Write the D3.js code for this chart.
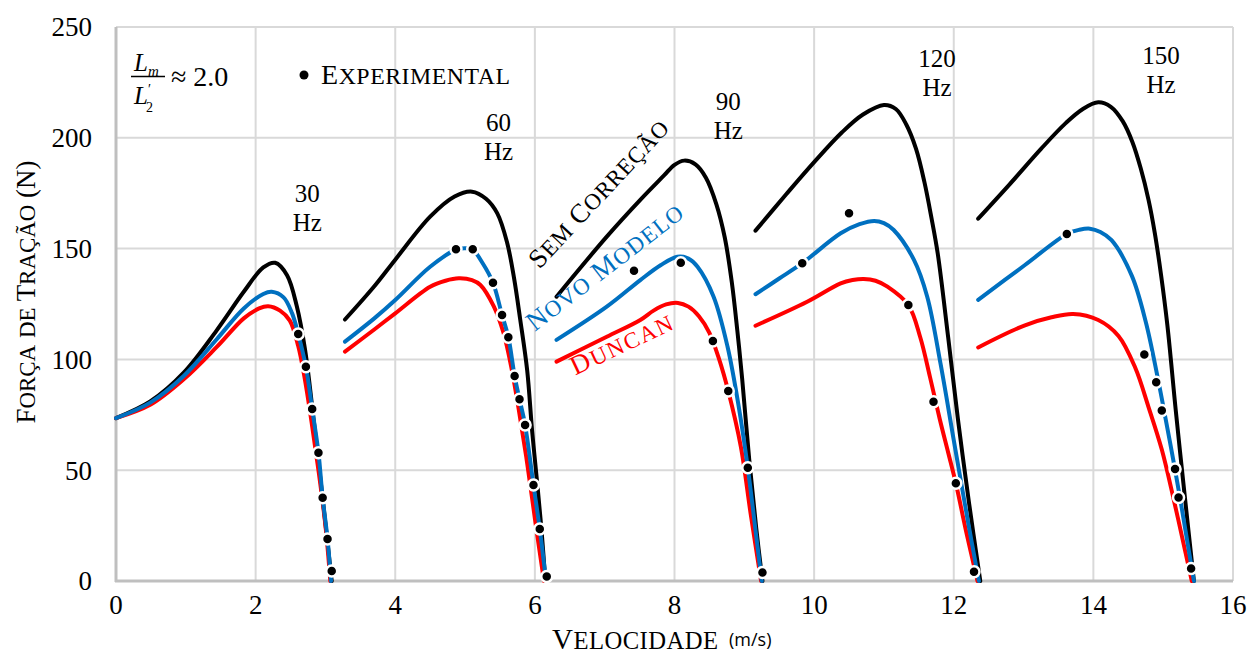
<!DOCTYPE html>
<html>
<head>
<meta charset="utf-8">
<script src="https://cdn.jsdelivr.net/npm/d3@7"></script>
<style>
  body { margin: 0; background: #fff; }
  svg { display: block; font-family: "Liberation Serif", serif; }
</style>
</head>
<body>
<svg id="chart" width="1252" height="659"></svg>
<script>
// values: [velocidade (m/s), força (N)]
var sem30 = [[0,73.5],[0.49,81],[0.97,94],[1.44,113],[1.83,130.5],[2.11,141.5],[2.28,143.6],[2.45,138],[2.59,124],[2.71,104],[2.83,73],[2.95,40],[3.09,0]];
var novo30 = [[0,73.5],[0.49,80.5],[0.97,92.5],[1.44,109],[1.83,123],[2.11,129.5],[2.23,130.5],[2.4,128],[2.52,121],[2.61,111.5],[2.72,96.7],[2.81,77.6],[2.9,57.9],[2.96,37.6],[3.03,19],[3.08,0]];
var duncan30 = [[0,73.5],[0.49,79.5],[0.97,91],[1.44,105.5],[1.83,118.5],[2.05,123],[2.18,124],[2.35,122],[2.49,117.5],[2.61,106],[2.7,92],[2.8,72],[2.9,50],[3.0,25],[3.07,0]];

var sem60 = [[3.28,118],[3.7,133],[4.0,145],[4.5,164.4],[4.85,173.5],[5.1,175.7],[5.3,172.5],[5.46,166],[5.6,153],[5.7,137],[5.79,118],[5.89,95],[5.96,68],[6.04,42],[6.1,21],[6.15,0]];
var novo60 = [[3.28,108],[3.7,118.5],[4.0,126.8],[4.5,141.8],[4.87,149.5],[5.0,150.2],[5.11,149.5],[5.25,143.5],[5.4,134.6],[5.53,120],[5.62,110],[5.71,92.5],[5.78,82],[5.86,70.4],[5.98,43.3],[6.07,23.5],[6.16,0]];
var duncan60 = [[3.28,103.5],[3.7,113.5],[4.0,120.8],[4.5,132.8],[4.72,135.5],[4.91,136.6],[5.1,135.8],[5.22,133.6],[5.41,124],[5.55,112],[5.67,95.2],[5.77,77.2],[5.89,53.1],[6.01,26],[6.13,0]];

var sem90 = [[6.31,128.3],[7.03,155.4],[7.51,172],[7.85,183],[8.0,187.8],[8.14,189.7],[8.3,188],[8.45,182],[8.6,170],[8.72,155],[8.82,135],[8.9,113],[8.97,91],[9.07,55],[9.17,24],[9.26,0]];
var novo90 = [[6.31,108.8],[7.03,123.8],[7.51,135.8],[7.8,142.5],[8.04,146.3],[8.2,145.5],[8.33,141.8],[8.56,128.3],[8.76,105.7],[8.92,78.7],[9.05,51.1],[9.16,23],[9.25,0]];
var duncan90 = [[6.31,99],[7.03,110.2],[7.51,117.8],[7.7,122],[7.88,124.8],[8.05,125.5],[8.2,123.8],[8.35,119.5],[8.5,112],[8.64,100],[8.77,85.7],[8.95,60.6],[9.09,30.5],[9.24,0]];

var sem120 = [[9.16,158.1],[9.6,174.5],[10.0,189],[10.4,202.5],[10.7,210.5],[11.0,214.8],[11.17,213],[11.32,206],[11.46,195],[11.58,180],[11.68,164],[11.77,147.9],[11.92,110],[12.06,73],[12.22,35],[12.38,0]];
var novo120 = [[9.16,129.4],[9.5,136.5],[9.83,143.4],[10.38,156.9],[10.65,161],[10.86,162.5],[11.0,161.5],[11.14,158.4],[11.43,144.9],[11.62,128.3],[11.81,98.2],[12.0,63.6],[12.2,27.5],[12.36,0]];
var duncan120 = [[9.16,115.2],[9.9,126],[10.38,134.3],[10.55,135.8],[10.71,136.3],[10.88,135.5],[11.05,132.8],[11.35,124.5],[11.52,110],[11.66,92],[11.8,73],[11.92,58],[12.03,44.1],[12.18,22],[12.34,0]];

var sem150 = [[12.35,163.5],[12.8,179],[13.25,195],[13.6,206.5],[13.85,213],[14.07,216],[14.25,214],[14.42,207.5],[14.56,198],[14.68,186],[14.79,172],[14.88,157],[14.97,138],[15.06,115.4],[15.18,77],[15.31,38],[15.44,0]];
var novo150 = [[12.35,126.9],[13.02,142.6],[13.62,156.6],[13.8,158.5],[13.95,159],[14.1,157.5],[14.26,153.8],[14.55,137.8],[14.75,117],[14.92,92],[15.03,74],[15.16,52],[15.26,34],[15.35,17],[15.44,0]];
var duncan150 = [[12.35,105.4],[13.02,115.4],[13.4,119],[13.71,120.5],[14.07,117.8],[14.36,110.6],[14.6,96.2],[14.79,78.5],[14.98,59.3],[15.15,36.9],[15.32,12.8],[15.41,0]];

var experimental = [
  [2.61,111.5],[2.72,96.7],[2.81,77.6],[2.9,57.9],[2.96,37.6],[3.03,19],[3.09,4.5],
  [4.87,149.7],[5.11,149.7],[5.4,134.6],[5.53,120],[5.62,110],[5.71,92.5],[5.78,82],[5.86,70.4],[5.98,43.3],[6.07,23.5],[6.17,2],
  [7.42,140],[8.09,143.6],[8.55,108.3],[8.77,85.7],[9.05,51.1],[9.26,3.8],
  [9.83,143.4],[10.5,166],[11.35,124.5],[11.71,80.9],[12.03,44.1],[12.29,4.2],
  [13.62,156.6],[14.73,102.2],[14.9,89.7],[14.98,76.9],[15.17,50.5],[15.22,37.7],[15.4,5.6]
];

var xTicks = [0,2,4,6,8,10,12,14,16];
var yTicks = [0,50,100,150,200,250];
var frequencies = ["30","60","90","120","150"];
var seriesNames = ["Sem Correção","Novo Modelo","Duncan"];

var semCorrecao = [sem30, sem60, sem90, sem120, sem150];
var novoModelo = [novo30, novo60, novo90, novo120, novo150];
var duncan = [duncan30, duncan60, duncan90, duncan120, duncan150];

var svg = d3.select("#chart");

var x = d3.scaleLinear().domain([0, 16]).range([116, 1233]);
var y = d3.scaleLinear().domain([0, 250]).range([581, 27]);

// small caps by hand: lower case letters become smaller capitals
function smallCaps(sel, str, size) {
  str.match(/[a-zà-ÿ]+|[^a-zà-ÿ]+/g).forEach(function(r) {
    var low = /[a-zà-ÿ]/.test(r[0]);
    sel.append("tspan")
      .attr("font-size", low ? size * 0.85 : size)
      .text(r.toUpperCase());
  });
}

// grid
svg.append("g").selectAll("line")
  .data(xTicks.filter(d => d > 0))
  .join("line")
    .attr("x1", d => x(d)).attr("x2", d => x(d))
    .attr("y1", y(0)).attr("y2", y(250))
    .attr("stroke", "#d9d9d9").attr("stroke-width", 2);

svg.append("g").selectAll("line")
  .data(yTicks.filter(d => d > 0))
  .join("line")
    .attr("x1", x(0)).attr("x2", x(16))
    .attr("y1", d => y(d)).attr("y2", d => y(d))
    .attr("stroke", "#d9d9d9").attr("stroke-width", 2);

// axis lines
svg.append("line")
  .attr("x1", x(0)).attr("x2", x(0)).attr("y1", y(0) + 1).attr("y2", y(250))
  .attr("stroke", "#bfbfbf").attr("stroke-width", 3);
svg.append("line")
  .attr("x1", x(0) - 1).attr("x2", x(16)).attr("y1", y(0)).attr("y2", y(0))
  .attr("stroke", "#bfbfbf").attr("stroke-width", 3);

// tick labels
svg.append("g").selectAll("text")
  .data(yTicks)
  .join("text")
    .attr("x", 92).attr("y", d => y(d)).attr("dy", "0.35em")
    .attr("text-anchor", "end")
    .attr("font-size", 27)
    .text(d => d);

svg.append("g").selectAll("text")
  .data(xTicks)
  .join("text")
    .attr("x", d => x(d)).attr("y", 614)
    .attr("text-anchor", "middle")
    .attr("font-size", 27)
    .text(d => d);

// axis titles
var yt = svg.append("text")
  .attr("transform", "translate(35,292) rotate(-90)")
  .attr("text-anchor", "middle")
  .attr("textLength", 263).attr("lengthAdjust", "spacing");
smallCaps(yt, "Força de Tração (N)", 27);

var xt = svg.append("text")
  .attr("x", 552).attr("y", 649)
  .attr("textLength", 166).attr("lengthAdjust", "spacing");
smallCaps(xt, "Velocidade", 29);
svg.append("text")
  .attr("x", 729).attr("y", 646)
  .attr("font-size", 18)
  .attr("font-family", "'Open Sans', sans-serif")
  .text("(m/s)");

// curves
var line = d3.line()
  .x(d => x(d[0]))
  .y(d => y(d[1]))
  .curve(d3.curveCatmullRom.alpha(0.5));

var layers = [
  {data: semCorrecao, color: "#000000"},
  {data: duncan, color: "#ff0000"},
  {data: novoModelo, color: "#0070c0"}
];

layers.forEach(function(l) {
  svg.append("g").selectAll("path")
    .data(l.data)
    .join("path")
      .attr("d", line)
      .attr("fill", "none")
      .attr("stroke", l.color)
      .attr("stroke-width", 4)
      .attr("stroke-linecap", "round")
      .attr("stroke-linejoin", "round");
});

// experimental points
svg.append("g").selectAll("circle")
  .data(experimental)
  .join("circle")
    .attr("cx", d => x(d[0]))
    .attr("cy", d => y(d[1]))
    .attr("r", 5.5)
    .attr("fill", "#000")
    .attr("stroke", "#fff")
    .attr("stroke-width", 2.5);

// frequency labels
var freqX = [2.74, 5.48, 8.77, 11.76, 14.97];
var freqY = [175, 207, 216.6, 236, 237.4];
var fl = svg.append("g").selectAll("text")
  .data(frequencies)
  .join("text")
    .attr("text-anchor", "middle")
    .attr("font-size", 25)
    .attr("x", (d, i) => x(freqX[i]))
    .attr("y", (d, i) => y(freqY[i]));
fl.append("tspan").attr("dy", "0.35em").text(d => d);
fl.append("tspan").attr("x", (d, i) => x(freqX[i])).attr("dy", 29).text("Hz");

// series labels along the curves
var labelPos = [[6.95, 173.7, -47, 192, "#000000"], [7.03, 140.3, -37.6, 190, "#0070c0"], [7.26, 105.4, -25.2, 110, "#ff0000"]];
svg.append("g").selectAll("text")
  .data(seriesNames)
  .join("text")
    .attr("transform", (d, i) => "translate(" + x(labelPos[i][0]) + "," + y(labelPos[i][1]) + ") rotate(" + labelPos[i][2] + ")")
    .attr("text-anchor", "middle")
    .attr("dy", "0.32em")
    .attr("fill", (d, i) => labelPos[i][4])
    .attr("textLength", (d, i) => labelPos[i][3])
    .attr("lengthAdjust", "spacing")
    .each(function(d) { smallCaps(d3.select(this), d, 27); });

// legend
svg.append("circle").attr("cx", 304).attr("cy", 75).attr("r", 4.5).attr("fill", "#000");
var lg = svg.append("text")
  .attr("x", 321).attr("y", 84)
  .attr("textLength", 189).attr("lengthAdjust", "spacing");
smallCaps(lg, "Experimental", 28);

// Lm / L2' ≈ 2.0
var frac = svg.append("g").attr("font-style", "italic");
var num = frac.append("text").attr("x", 134).attr("y", 71).attr("font-size", 25);
num.append("tspan").text("L");
num.append("tspan").attr("font-size", 15).attr("dy", 5).text("m");
frac.append("line")
  .attr("x1", 131).attr("x2", 165).attr("y1", 76.5).attr("y2", 76.5)
  .attr("stroke", "#000").attr("stroke-width", 1.3);
frac.append("text").attr("x", 134).attr("y", 104).attr("font-size", 25).text("L");
frac.append("text").attr("x", 148).attr("y", 94).attr("font-size", 14)
  .attr("font-style", "normal").text("′");
frac.append("text").attr("x", 146).attr("y", 112).attr("font-size", 14)
  .attr("font-style", "normal").text("2");
svg.append("text")
  .attr("x", 171).attr("y", 86)
  .attr("font-size", 28)
  .text("≈ 2.0");
</script>
</body>
</html>
